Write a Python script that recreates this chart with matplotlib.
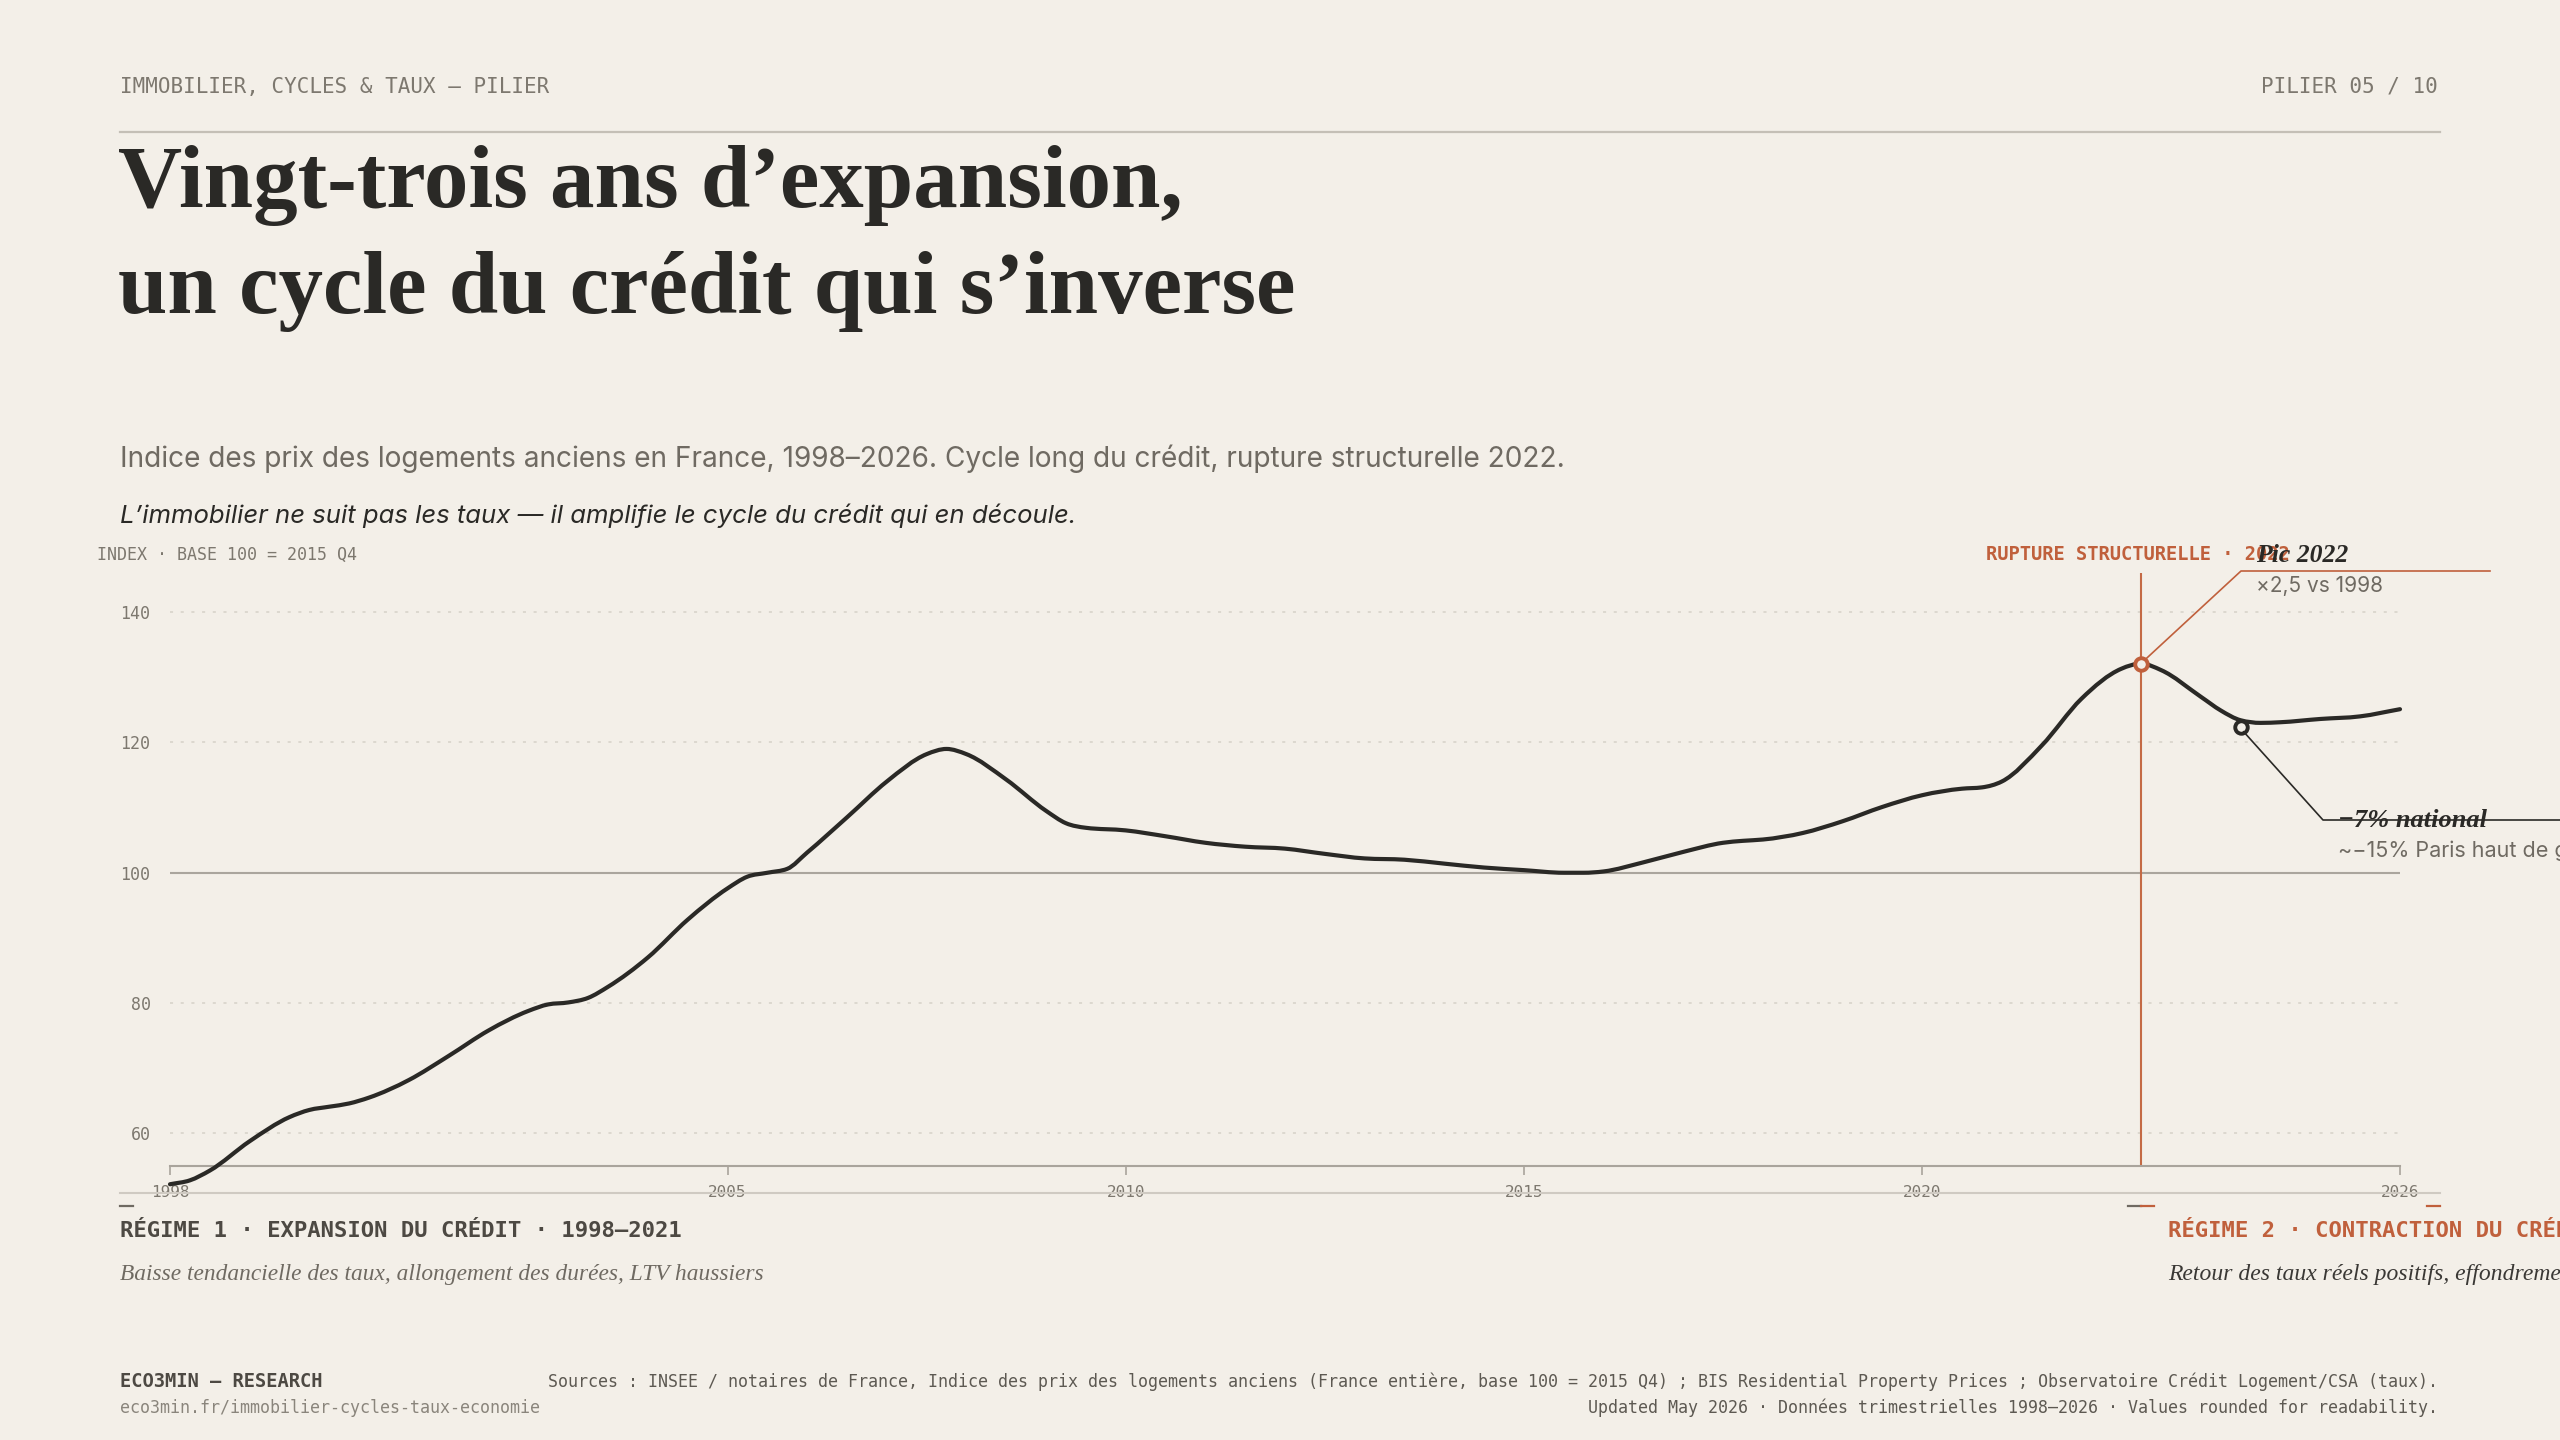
import matplotlib
matplotlib.use("Agg")
import matplotlib.pyplot as plt
from matplotlib.lines import Line2D
from matplotlib.path import Path
from matplotlib.patches import PathPatch
import numpy as np

# ---------------- data ----------------
years = [1998.0, 1998.25, 1998.5, 1999.0, 1999.5, 1999.75, 2000.0, 2000.25, 2000.5, 2001.0,
         2001.5, 2002.0, 2002.5, 2002.75, 2003.0, 2003.25, 2003.5, 2004.0, 2004.5, 2005.0,
         2005.25, 2005.5, 2005.75, 2006.0, 2006.5, 2007.0, 2007.5, 2007.75, 2008.0, 2008.5,
         2009.0, 2009.25, 2009.5, 2010.0, 2010.5, 2011.0, 2011.5, 2012.0, 2012.5, 2013.0,
         2013.5, 2014.0, 2014.5, 2015.0, 2015.5, 2015.75, 2016.0, 2016.5, 2017.0, 2017.5,
         2017.75, 2018.0, 2018.5, 2019.0, 2019.5, 2020.0, 2020.5, 2020.75, 2021.0, 2021.5,
         2022.0, 2022.5, 2022.75, 2023.0, 2023.5, 2023.75, 2024.0, 2024.25, 2024.5, 2025.0,
         2025.5, 2026.0]
index_values = [52.2, 52.8, 54.3, 58.8, 62.5, 63.6, 64.1, 64.6, 65.5, 68.2,
                71.9, 75.8, 78.8, 79.8, 80.1, 80.8, 82.5, 87.0, 92.8, 97.6,
                99.4, 100.0, 100.6, 103.1, 108.5, 114.0, 118.2, 119.0, 118.2, 114.3,
                109.5, 107.6, 106.9, 106.5, 105.6, 104.6, 104.0, 103.7, 102.9, 102.2,
                102.0, 101.4, 100.8, 100.4, 100.0, 100.0, 100.2, 101.6, 103.2, 104.6,
                104.9, 105.1, 106.1, 107.9, 110.1, 111.9, 112.9, 113.1, 114.0, 119.5,
                126.7, 131.3, 132.1, 131.1, 127.0, 124.9, 123.4, 123.0, 123.1, 123.6,
                124.0, 125.1]
peak_point = (2022.75, 132.1)
trough_point = (2024.0, 122.4)
rupture_year = 2022.75
y_ticks = [60, 80, 100, 120, 140]
x_ticks = [1998, 2005, 2010, 2015, 2020, 2026]
x_tick_labels = ["1998", "2005", "2010", "2015", "2020", "2026"]

# ---------------- style ----------------
BG = "#f3efe8"
INK = "#2a2926"
GRAY = "#6f6a62"
LGRAY = "#8a857c"
RULE = "#c4bfb6"
ORANGE = "#c0603c"
MONO = ["DejaVu Sans Mono"]
SERIF = ["Liberation Serif", "DejaVu Serif"]
SANS = ["Inter", "DejaVu Sans"]

W, H = 2560, 1440
fig = plt.figure(figsize=(25.6, 14.4), dpi=100, facecolor=BG)


def P(x, y):
    return (x / W, 1 - y / H)


def txt(x, y, s, **kw):
    kw.setdefault("va", "baseline")
    fig.text(*P(x, y), s, **kw)


def hline(x0, x1, y, **kw):
    fig.add_artist(Line2D([x0 / W, x1 / W], [1 - y / H, 1 - y / H],
                          transform=fig.transFigure, **kw))


def smooth_path(xs, ys):
    """Monotone cubic (Steffen) drawn as Bezier segments through the data points."""
    x = np.asarray(xs, float)
    y = np.asarray(ys, float)
    h = np.diff(x)
    d = np.diff(y) / h
    n = len(x)
    m = np.zeros(n)
    for k in range(1, n - 1):
        p = (d[k - 1] * h[k] + d[k] * h[k - 1]) / (h[k - 1] + h[k])
        m[k] = (np.sign(d[k - 1]) + np.sign(d[k])) * min(abs(d[k - 1]), abs(d[k]), 0.5 * abs(p))
    m[0] = d[0]
    m[-1] = d[-1]
    verts = [(x[0], y[0])]
    codes = [Path.MOVETO]
    for k in range(n - 1):
        verts += [(x[k] + h[k] / 3, y[k] + m[k] * h[k] / 3),
                  (x[k + 1] - h[k] / 3, y[k + 1] - m[k + 1] * h[k] / 3),
                  (x[k + 1], y[k + 1])]
        codes += [Path.CURVE4] * 3
    return Path(verts, codes)


# ---------------- header ----------------
txt(120, 93, "IMMOBILIER, CYCLES & TAUX — PILIER", family=MONO, fontsize=15, color="#7d786f")
txt(2438, 93, "PILIER 05 / 10", family=MONO, fontsize=15, color="#7d786f", ha="right")
hline(120, 2440, 132, color=RULE, lw=1.6)

txt(118, 207, "Vingt-trois ans d’expansion,", family=SERIF, fontsize=64, weight="bold", color=INK)
txt(118, 313, "un cycle du crédit qui s’inverse", family=SERIF, fontsize=64, weight="bold", color=INK)

txt(120, 467, "Indice des prix des logements anciens en France, 1998–2026. Cycle long du crédit, rupture structurelle 2022.",
    family=SANS, fontsize=20.2, color=GRAY)
txt(120, 523, "L’immobilier ne suit pas les taux — il amplifie le cycle du crédit qui en découle.",
    family=SANS, fontsize=18.5, style="italic", color=INK)

txt(97, 560, "INDEX · BASE 100 = 2015 Q4", family=MONO, fontsize=12, color="#7d786f")

# ---------------- axes ----------------
ax = fig.add_axes([170 / W, 1 - 1166 / H, (2400 - 170) / W, (1166 - 573) / H])
ax.set_facecolor("none")
ax.set_xlim(1998, 2026)
ax.set_ylim(55, 146)
for s in ["top", "right", "left"]:
    ax.spines[s].set_visible(False)
ax.spines["bottom"].set_color("#a9a49c")
ax.spines["bottom"].set_linewidth(1.5)

for yv in y_ticks:
    if yv == 100:
        ax.axhline(yv, color="#aaa59d", lw=1.5, zorder=1)
    else:
        ax.axhline(yv, color="#d6d1c8", lw=1.1, ls=(0, (2, 5)), zorder=1)

ax.set_yticks(y_ticks)
ax.set_yticklabels([str(v) for v in y_ticks], family=MONO, fontsize=12, color="#7d786f")
ax.tick_params(axis="y", length=0, pad=14)
ax.set_xticks(x_ticks)
ax.set_xticklabels(x_tick_labels, family=MONO, fontsize=11.5, color="#7d786f")
ax.tick_params(axis="x", length=6.5, width=1.2, color="#a9a49c", pad=7)

ax.axvline(rupture_year, color="#c46a45", lw=1.5, zorder=2)

curve = PathPatch(smooth_path(years, index_values), fill=False, edgecolor=INK, lw=3.0,
                  capstyle="round", joinstyle="round", transform=ax.transData,
                  clip_on=False, zorder=4)
ax.add_patch(curve)

ax.plot([peak_point[0]], [peak_point[1]], marker="o", ms=9, mew=2.8, mec=ORANGE, mfc=BG,
        zorder=6, clip_on=False)
ax.plot([trough_point[0]], [trough_point[1]], marker="o", ms=9, mew=2.8, mec=INK, mfc=BG,
        zorder=6, clip_on=False)


def fig_poly(pts, **kw):
    xs = [p[0] / W for p in pts]
    ys = [1 - p[1] / H for p in pts]
    fig.add_artist(Line2D(xs, ys, transform=fig.transFigure, **kw))


pk = ax.transData.transform(peak_point)
tr = ax.transData.transform(trough_point)
fig_poly([(pk[0] + 4, H - pk[1] - 4), (2241, 571), (2490, 571)], color=ORANGE, lw=1.2, zorder=5)
fig_poly([(tr[0] + 3, H - tr[1] + 5), (2323, 820), (2600, 820)], color=INK, lw=1.2, zorder=5)

# annotations
txt(2138, 560, "RUPTURE STRUCTURELLE · 2022", family=MONO, fontsize=13.5, weight="bold",
    color=ORANGE, ha="center")
txt(2256, 562, "Pic 2022", family=SERIF, fontsize=18.5, weight="bold", style="italic", color=INK)
txt(2256, 592, "×2,5 vs 1998", family=SANS, fontsize=15, color=GRAY)
txt(2338, 827, "−7% national", family=SERIF, fontsize=19, weight="bold", style="italic", color=INK)
txt(2338, 857, "~−15% Paris haut de gamme", family=SANS, fontsize=15.5, color=GRAY)

# ---------------- regimes ----------------
hline(120, 2440, 1193, color="#cfcac2", lw=1.5)
hline(120, 133, 1206, color="#6f6a62", lw=1.6)
hline(2128, 2141, 1206, color="#6f6a62", lw=1.6)
hline(2141, 2154, 1206, color=ORANGE, lw=1.6)
hline(2427, 2440, 1206, color=ORANGE, lw=1.6)

txt(120, 1237, "RÉGIME 1 · EXPANSION DU CRÉDIT · 1998–2021", family=MONO, fontsize=16,
    weight="bold", color="#4d4943")
txt(120, 1280, "Baisse tendancielle des taux, allongement des durées, LTV haussiers",
    family=SERIF, fontsize=16.8, style="italic", color=GRAY)
txt(2168, 1237, "RÉGIME 2 · CONTRACTION DU CRÉDIT · 2022–2026", family=MONO, fontsize=16,
    weight="bold", color=ORANGE)
txt(2168, 1280, "Retour des taux réels positifs, effondrement de la production de crédit",
    family=SERIF, fontsize=17, style="italic", color="#3a3835")

# ---------------- footer ----------------
txt(120, 1387, "ECO3MIN — RESEARCH", family=MONO, fontsize=13.5, weight="bold", color="#4d4943")
txt(120, 1413, "eco3min.fr/immobilier-cycles-taux-economie", family=MONO, fontsize=12, color=LGRAY)
txt(2438, 1387, "Sources : INSEE / notaires de France, Indice des prix des logements anciens (France entière, "
    "base 100 = 2015 Q4) ; BIS Residential Property Prices ; Observatoire Crédit Logement/CSA (taux).",
    family=MONO, fontsize=12, color="#5d5952", ha="right")
txt(2438, 1413, "Updated May 2026 · Données trimestrielles 1998–2026 · Values rounded for readability.",
    family=MONO, fontsize=12, color="#5d5952", ha="right")

fig.savefig("out.png", dpi=100, facecolor=BG)
